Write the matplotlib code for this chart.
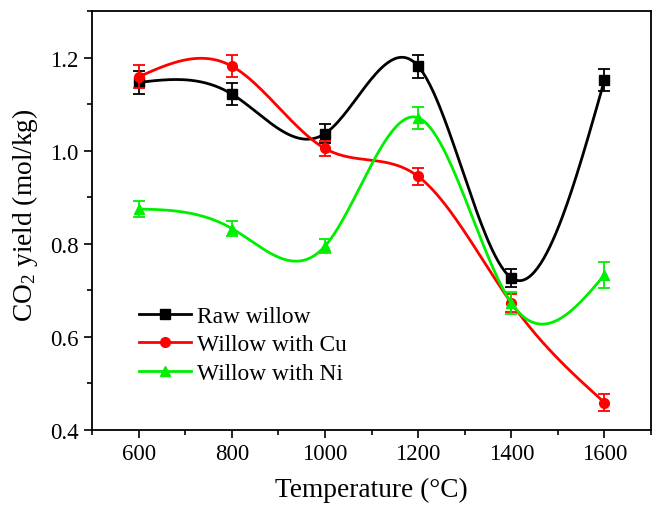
import numpy as np
import matplotlib
matplotlib.use("Agg")
import matplotlib.pyplot as plt
from matplotlib.ticker import MultipleLocator

plt.rcParams['font.family'] = ['Liberation Serif', 'DejaVu Serif']
plt.rcParams['mathtext.default'] = 'regular'

temps = [600, 800, 1000, 1200, 1400, 1600]

raw = [1.147, 1.122, 1.037, 1.182, 0.727, 1.152]
raw_err = [0.024, 0.024, 0.021, 0.025, 0.02, 0.024]

cu = [1.159, 1.182, 1.005, 0.945, 0.673, 0.459]
cu_err = [0.025, 0.024, 0.016, 0.019, 0.02, 0.019]

ni = [0.875, 0.833, 0.795, 1.071, 0.673, 0.733]
ni_err = [0.018, 0.017, 0.015, 0.024, 0.024, 0.027]

labels = ["Raw willow", "Willow with Cu", "Willow with Ni"]
colors = ["#000000", "#ff0000", "#00ee00"]
markers = ["s", "o", "^"]


def natural_spline(x, y, n=300):
    # natural cubic spline through the points, just for the smooth line
    x = np.asarray(x, float)
    y = np.asarray(y, float)
    k = len(x)
    h = np.diff(x)
    A = np.zeros((k, k))
    b = np.zeros(k)
    A[0, 0] = 1
    A[-1, -1] = 1
    for i in range(1, k - 1):
        A[i, i - 1] = h[i - 1]
        A[i, i] = 2 * (h[i - 1] + h[i])
        A[i, i + 1] = h[i]
        b[i] = 6 * ((y[i + 1] - y[i]) / h[i] - (y[i] - y[i - 1]) / h[i - 1])
    M = np.linalg.solve(A, b)
    xs = np.linspace(x[0], x[-1], n)
    idx = np.clip(np.searchsorted(x, xs) - 1, 0, k - 2)
    x0, x1 = x[idx], x[idx + 1]
    hh = x1 - x0
    ys = (M[idx] * (x1 - xs) ** 3 / (6 * hh) + M[idx + 1] * (xs - x0) ** 3 / (6 * hh)
          + (y[idx] / hh - M[idx] * hh / 6) * (x1 - xs)
          + (y[idx + 1] / hh - M[idx + 1] * hh / 6) * (xs - x0))
    return xs, ys


fig = plt.figure(figsize=(6.53, 5.10), dpi=100)
ax = fig.add_axes([0.141, 0.155, 0.856, 0.821])

for vals, errs, lab, c, m in zip([raw, cu, ni], [raw_err, cu_err, ni_err], labels, colors, markers):
    xs, ys = natural_spline(temps, vals)
    ax.plot(xs, ys, color=c, lw=2)
    ax.errorbar(temps, vals, yerr=errs, fmt='none', ecolor=c, elinewidth=1.3, capsize=4, capthick=1.3)
    ax.plot(temps, vals, linestyle='none', marker=m, color=c, ms=7)
    ax.plot([], [], color=c, lw=2, marker=m, ms=7, label=lab)

ax.set_xlim(500, 1700)
ax.set_ylim(0.4, 1.3)
ax.set_xticks([600, 800, 1000, 1200, 1400, 1600])
ax.xaxis.set_minor_locator(MultipleLocator(100))
ax.yaxis.set_major_locator(MultipleLocator(0.2))
ax.yaxis.set_minor_locator(MultipleLocator(0.1))
ax.yaxis.set_major_formatter(matplotlib.ticker.FormatStrFormatter('%.1f'))
ax.tick_params(which='both', direction='out', top=False, right=False, labelsize=16.5, width=1.2)
ax.tick_params(which='major', length=6)
ax.tick_params(which='minor', length=3.5)
for s in ax.spines.values():
    s.set_linewidth(1.3)

ax.set_xlabel("Temperature (°C)", fontsize=19.7, labelpad=9)
ax.set_ylabel("CO$_2$ yield (mol/kg)", fontsize=19.7)
ax.yaxis.set_label_coords(-0.093, 0.515)

ax.legend(loc='lower left', bbox_to_anchor=(0.047, 0.06), frameon=False, fontsize=16.8,
          handlelength=2.2, handletextpad=0.25, labelspacing=0.3)

fig.savefig("out.png", dpi=100)
